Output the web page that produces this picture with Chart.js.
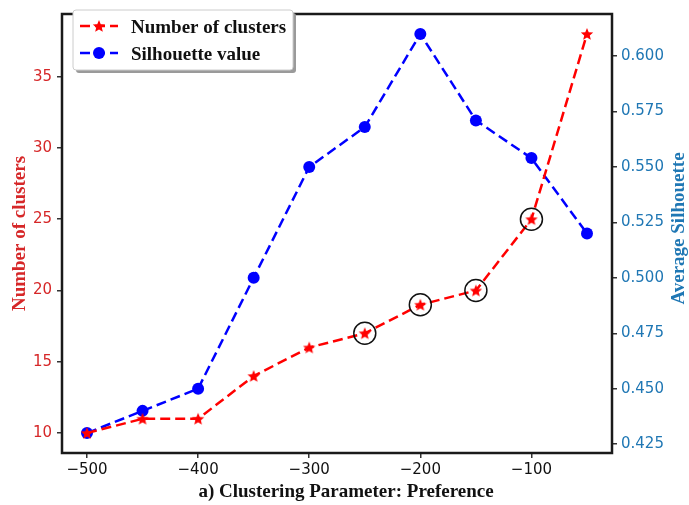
<!DOCTYPE html>
<html>
<head>
<meta charset="utf-8">
<script src="https://cdn.jsdelivr.net/npm/chart.js@4"></script>
<style>
  html, body { margin: 0; padding: 0; background: #ffffff; }
  #c { display: block; }
</style>
</head>
<body>
<canvas id="c" width="689" height="505"></canvas>
<script>
// Affinity-propagation sweep over the "preference" parameter
const preferences = [-500, -450, -400, -350, -300, -250, -200, -150, -100, -50];
const clusterCounts = [10, 11, 11, 14, 16, 17, 19, 20, 25, 38];
const silhouetteValues = [0.430, 0.440, 0.450, 0.500, 0.550, 0.568, 0.610, 0.571, 0.554, 0.520];
// Preferences singled out with a ring on the cluster-count curve
const highlightedPreferences = [-250, -200, -150, -100];

const xTicks = [-500, -400, -300, -200, -100];
const clusterTicks = [10, 15, 20, 25, 30, 35];
const silhouetteTicks = [0.425, 0.450, 0.475, 0.500, 0.525, 0.550, 0.575, 0.600];

const RED_TEXT = '#d62728';
const BLUE_TEXT = '#1f77b4';
const SERIF = '"Liberation Serif", "Times New Roman", serif';
const SANS = '"DejaVu Sans", sans-serif';
const DASH = [10, 5];

// Filled five-point star used as the cluster-count marker
function makeStar(size, color) {
  const cv = document.createElement('canvas');
  cv.width = size; cv.height = size;
  const g = cv.getContext('2d');
  const cx = size / 2, cy = size / 2 + 0.5, ro = size / 2 - 0.5, ri = ro * 0.45;
  g.beginPath();
  for (let i = 0; i < 10; i++) {
    const r = i % 2 === 0 ? ro : ri;
    const a = -Math.PI / 2 + i * Math.PI / 5;
    const px = cx + r * Math.cos(a), py = cy + r * Math.sin(a);
    if (i === 0) g.moveTo(px, py); else g.lineTo(px, py);
  }
  g.closePath();
  g.fillStyle = color;
  g.fill();
  return cv;
}
const starMarker = makeStar(14, '#ff0000');

const clusterPoints = preferences.map((p, i) => ({ x: p, y: clusterCounts[i] }));
const silhouettePoints = preferences.map((p, i) => ({ x: p, y: silhouetteValues[i] }));
const ringPoints = highlightedPreferences.map(p => ({ x: p, y: clusterCounts[preferences.indexOf(p)] }));

const fixTicks = values => scale => { scale.ticks = values.map(v => ({ value: v })); };

// Frame, axis titles and the boxed legend
const decorations = {
  id: 'decorations',
  afterDatasetsDraw(chart) {
    const { ctx, chartArea: a } = chart;
    ctx.save();
    ctx.strokeStyle = '#1a1a1a';
    ctx.lineWidth = 2.5;
    ctx.strokeRect(a.left, a.top, a.right - a.left, a.bottom - a.top);
    ctx.restore();
  },
  afterDraw(chart) {
    const { ctx, chartArea: a } = chart;
    const midY = (a.top + a.bottom) / 2;
    ctx.save();
    ctx.font = 'bold 19px ' + SERIF;
    ctx.textAlign = 'center';
    ctx.textBaseline = 'middle';

    ctx.fillStyle = '#111111';
    ctx.fillText('a) Clustering Parameter: Preference', (a.left + a.right) / 2 + 9, 492);

    ctx.save();
    ctx.translate(20, midY);
    ctx.rotate(-Math.PI / 2);
    ctx.fillStyle = RED_TEXT;
    ctx.fillText('Number of clusters', 0, 0);
    ctx.restore();

    ctx.save();
    ctx.translate(679, midY - 5);
    ctx.rotate(-Math.PI / 2);
    ctx.fillStyle = BLUE_TEXT;
    ctx.fillText('Average Silhouette', 0, 0);
    ctx.restore();

    // legend box with drop shadow
    const bx = 73, by = 10, bw = 220, bh = 60;
    ctx.fillStyle = '#9a9a9a';
    ctx.beginPath();
    ctx.roundRect(bx + 3, by + 3, bw, bh, 3);
    ctx.fill();
    ctx.fillStyle = '#ffffff';
    ctx.strokeStyle = '#cccccc';
    ctx.lineWidth = 1;
    ctx.beginPath();
    ctx.roundRect(bx, by, bw, bh, 3);
    ctx.fill();
    ctx.stroke();

    const entries = [
      { label: 'Number of clusters', color: '#ff0000', marker: 'star', y: by + 16 },
      { label: 'Silhouette value', color: '#0000ff', marker: 'circle', y: by + 43 }
    ];
    entries.forEach(e => {
      ctx.strokeStyle = e.color;
      ctx.lineWidth = 2.5;
      ctx.setLineDash(DASH);
      ctx.beginPath();
      ctx.moveTo(bx + 7, e.y);
      ctx.lineTo(bx + 45, e.y);
      ctx.stroke();
      ctx.setLineDash([]);
      if (e.marker === 'star') {
        ctx.drawImage(starMarker, bx + 26 - 7, e.y - 7);
      } else {
        ctx.fillStyle = e.color;
        ctx.beginPath();
        ctx.arc(bx + 26, e.y, 6, 0, Math.PI * 2);
        ctx.fill();
      }
      ctx.fillStyle = '#111111';
      ctx.textAlign = 'left';
      ctx.fillText(e.label, bx + 58, e.y + 2);
    });
    ctx.restore();
  }
};

new Chart(document.getElementById('c'), {
  type: 'line',
  data: {
    datasets: [
      {
        label: 'Number of clusters',
        data: clusterPoints,
        yAxisID: 'y',
        borderColor: '#ff0000',
        backgroundColor: '#ff0000',
        borderWidth: 2.5,
        borderDash: DASH,
        pointStyle: starMarker,
        pointRadius: 7,
        tension: 0,
        order: 2
      },
      {
        label: 'Silhouette value',
        data: silhouettePoints,
        yAxisID: 'y2',
        borderColor: '#0000ff',
        backgroundColor: '#0000ff',
        borderWidth: 2.5,
        borderDash: DASH,
        pointStyle: 'circle',
        pointRadius: 6,
        pointBorderWidth: 0,
        tension: 0,
        order: 3
      },
      {
        label: 'Highlighted',
        data: ringPoints,
        yAxisID: 'y',
        showLine: false,
        pointStyle: 'circle',
        pointRadius: 11,
        pointBorderColor: '#111111',
        pointBackgroundColor: 'rgba(0,0,0,0)',
        pointBorderWidth: 1.5,
        order: 1
      }
    ]
  },
  options: {
    responsive: false,
    animation: false,
    devicePixelRatio: 1,
    layout: { padding: { top: 7, left: 0, right: 0, bottom: 0 } },
    plugins: { legend: { display: false }, tooltip: { enabled: false } },
    scales: {
      x: {
        type: 'linear',
        min: -522.5,
        max: -27.5,
        afterBuildTicks: fixTicks(xTicks),
        afterFit: s => { s.height = 52; },
        border: { display: false },
        grid: { drawOnChartArea: false, drawTicks: true, tickLength: 5, color: '#333333', lineWidth: 1.5 },
        ticks: {
          color: '#111111',
          font: { family: SANS, size: 15 },
          padding: 3,
          maxRotation: 0,
          callback: v => '\u2212' + Math.abs(v)
        }
      },
      y: {
        type: 'linear',
        position: 'left',
        min: 8.6,
        max: 39.4,
        afterBuildTicks: fixTicks(clusterTicks),
        afterFit: s => { s.width = 62; },
        border: { display: false },
        grid: { drawOnChartArea: false, drawTicks: true, tickLength: 5, color: '#333333', lineWidth: 1.5 },
        ticks: { color: RED_TEXT, font: { family: SANS, size: 15 }, padding: 5 }
      },
      y2: {
        type: 'linear',
        position: 'right',
        min: 0.421,
        max: 0.619,
        afterBuildTicks: fixTicks(silhouetteTicks),
        afterFit: s => { s.width = 77; },
        border: { display: false },
        grid: { drawOnChartArea: false, drawTicks: true, tickLength: 5, color: '#333333', lineWidth: 1.5 },
        ticks: { color: BLUE_TEXT, font: { family: SANS, size: 15 }, padding: 4, callback: v => v.toFixed(3) }
      }
    }
  },
  plugins: [decorations]
});
</script>
</body>
</html>
